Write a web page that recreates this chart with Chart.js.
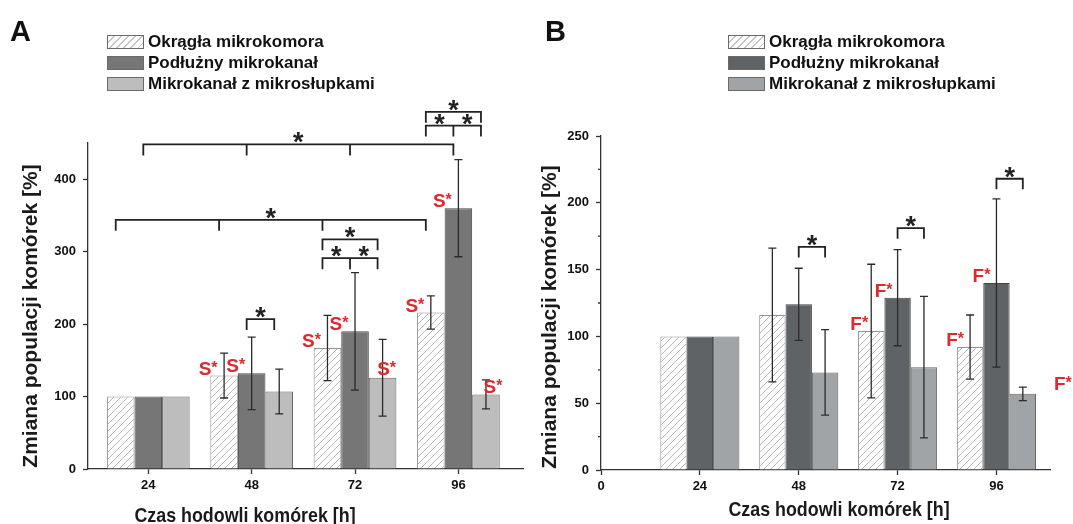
<!DOCTYPE html>
<html>
<head>
<meta charset="utf-8">
<script src="https://cdn.jsdelivr.net/npm/chart.js@4.4.0/dist/chart.umd.min.js"></script>
<style>
  body { margin: 0; background: #fff; width: 1073px; height: 524px; overflow: hidden; position: relative;
         font-family: "Liberation Sans", Arial, sans-serif; color: #111; }
  .panel { position: absolute; top: 0; height: 524px; }
  #wrapA { left: 0; width: 540px; }
  #wrapB { left: 540px; width: 533px; }
  .letter { position: absolute; top: 17px; font-weight: bold; font-size: 29px; line-height: 29px; }
  .legend { position: absolute; top: 31px; font-weight: bold; font-size: 17px; }
  .legend .row { display: flex; align-items: center; height: 21px; white-space: nowrap; }
  .legend .box { width: 35px; height: 12px; border: 1px solid #6a6a6a; margin-right: 4px; }
</style>
</head>
<body>
<div class="panel" id="wrapA"><canvas id="chart-a"></canvas></div>
<div class="panel" id="wrapB"><canvas id="chart-b"></canvas></div>
<div class="letter" style="left:10px">A</div>
<div class="letter" style="left:545px">B</div>
<div class="legend" id="legend-a" style="left:107px"></div>
<div class="legend" id="legend-b" style="left:728px"></div>

<script>
// Data
const hours = [24, 48, 72, 96];
const seriesNames = ['Okrągła mikrokomora', 'Podłużny mikrokanał', 'Mikrokanał z mikrosłupkami'];
const yTitle = 'Zmiana populacji komórek [%]';
const xTitle = 'Czas hodowli komórek [h]';

// panel A
const roundA = [100, 129, 167, 216];
const roundErrA = [0, 31, 45, 23];
const longA = [100, 132, 190, 360];
const longErrA = [0, 50, 81, 67];
const pillarA = [100, 107, 126, 103];
const pillarErrA = [0, 31, 53, 20];
const xTicksA = [24, 48, 72, 96];
const yTicksA = [0, 100, 200, 300, 400];

// panel B
const roundB = [100, 116, 104, 92];
const roundErrB = [0, 50, 50, 24];
const longB = [100, 124, 129, 140];
const longErrB = [0, 27, 36, 63];
const pillarB = [100, 73, 77, 57];
const pillarErrB = [0, 32, 53, 5];
const xTicksB = [0, 24, 48, 72, 96];
const yTicksB = [0, 50, 100, 150, 200, 250];
const yMinorB = [25, 75, 125, 175, 225];

// hatch fill for the round chamber bars
function hatch(ctx) {
  const c = document.createElement('canvas');
  c.width = c.height = 7;
  const g = c.getContext('2d');
  g.fillStyle = '#fff';
  g.fillRect(0, 0, 7, 7);
  g.strokeStyle = '#b0b0b0';
  g.lineWidth = 0.9;
  g.beginPath();
  g.moveTo(0, 7); g.lineTo(7, 0);
  g.moveTo(-1, 1); g.lineTo(1, -1);
  g.moveTo(6, 8); g.lineTo(8, 6);
  g.stroke();
  return ctx.createPattern(c, 'repeat');
}

const FONT = '"Liberation Sans", Arial, sans-serif';

// error bars, significance brackets, red markers, axis titles
const marks = {
  id: 'marks',
  afterDraw(chart, args, o) {
    const ctx = chart.ctx, ys = chart.scales.y;
    const bar = (g, s) => chart.getDatasetMeta(s).data[g];
    ctx.save();

    ctx.strokeStyle = '#2b2b2b';
    ctx.lineWidth = 1.3;
    chart.data.datasets.forEach((ds, s) => {
      ds.errors.forEach((e, g) => {
        if (!e) return;
        const b = bar(g, s), v = ds.data[g].y;
        const y1 = ys.getPixelForValue(v + e), y2 = ys.getPixelForValue(v - e);
        ctx.beginPath();
        ctx.moveTo(b.x, y1); ctx.lineTo(b.x, y2);
        ctx.moveTo(b.x - 4, y1); ctx.lineTo(b.x + 4, y1);
        ctx.moveTo(b.x - 4, y2); ctx.lineTo(b.x + 4, y2);
        ctx.stroke();
      });
    });

    // minor ticks
    ctx.strokeStyle = '#333';
    ctx.lineWidth = 1.3;
    ctx.beginPath();
    (o.minor || []).forEach(v => {
      const y = ys.getPixelForValue(v);
      ctx.moveTo(ys.right, y); ctx.lineTo(ys.right - 3, y);
    });
    ctx.stroke();

    ctx.strokeStyle = '#222';
    ctx.fillStyle = '#222';
    ctx.lineWidth = 1.8;
    ctx.textAlign = 'center';
    ctx.textBaseline = 'alphabetic';
    o.brackets.forEach(br => {
      const xs = br.pts.map(([g, s]) => bar(g, s).x + o.shift);
      const y = ys.getPixelForValue(br.at);
      const last = xs[xs.length - 1];
      ctx.beginPath();
      ctx.moveTo(xs[0], y + o.drop); ctx.lineTo(xs[0], y); ctx.lineTo(last, y); ctx.lineTo(last, y + o.drop);
      xs.slice(1, -1).forEach(x => { ctx.moveTo(x, y); ctx.lineTo(x, y + o.drop); });
      ctx.stroke();
      ctx.font = 'bold 27px ' + FONT;
      br.stars.forEach(i => ctx.fillText('*', (xs[i] + xs[i + 1]) / 2, y + 7));
    });

    ctx.fillStyle = '#dc2a2f';
    ctx.textAlign = 'left';
    o.labels.forEach(([g, s, dx, dy]) => {
      const b = bar(g, s);
      ctx.font = 'bold 19px ' + FONT;
      const w1 = ctx.measureText(o.letter).width;
      ctx.font = 'bold 16px ' + FONT;
      const w2 = ctx.measureText('*').width;
      const x0 = b.x + dx - (w1 + w2) / 2, y = b.y - 1 + (dy || 0);
      ctx.font = 'bold 19px ' + FONT;
      ctx.fillText(o.letter, x0, y);
      ctx.font = 'bold 16px ' + FONT;
      ctx.fillText('*', x0 + w1, y - 2);
    });

    ctx.fillStyle = '#1a1a1a';
    ctx.textAlign = 'center';
    ctx.font = 'bold 21px ' + FONT;
    ctx.save();
    ctx.translate(o.xt[0], o.xt[1]);
    ctx.scale(0.85, 1);
    ctx.fillText(xTitle, 0, 0);
    ctx.restore();
    ctx.save();
    ctx.translate(o.yt[0], o.yt[1]);
    ctx.rotate(-Math.PI / 2);
    ctx.textBaseline = 'middle';
    ctx.fillText(yTitle, 0, 0);
    ctx.restore();

    ctx.restore();
  }
};

function panel(id, d) {
  const el = document.getElementById(id);
  const pts = vals => hours.map((h, i) => ({ x: h, y: vals[i] }));
  new Chart(el, {
    type: 'bar',
    data: {
      datasets: [
        { label: seriesNames[0], data: pts(d.round), errors: d.roundErr,
          backgroundColor: hatch(el.getContext('2d')), borderColor: '#949494', borderWidth: 1 },
        { label: seriesNames[1], data: pts(d.long), errors: d.longErr,
          backgroundColor: d.dark, borderColor: '#444', borderWidth: 1 },
        { label: seriesNames[2], data: pts(d.pillar), errors: d.pillarErr,
          backgroundColor: d.light, borderColor: '#666', borderWidth: 1 }
      ]
    },
    options: {
      responsive: true,
      maintainAspectRatio: false,
      animation: false,
      layout: { padding: { top: d.top, right: d.right, bottom: 0, left: 0 } },
      datasets: { bar: { categoryPercentage: 0.8, barPercentage: 1 } },
      plugins: {
        legend: { display: false },
        tooltip: { enabled: false },
        marks: d.marks
      },
      scales: {
        x: {
          type: 'linear', min: d.xMin, max: d.xMax, offset: false,
          afterBuildTicks: s => { s.ticks = d.xTicks.map(v => ({ value: v })); },
          afterFit: s => { s.height = d.xH; },
          grid: { drawOnChartArea: false, offset: false, tickLength: 5, tickColor: '#333', tickWidth: 1.3 },
          border: { color: '#333', width: 1.3 },
          ticks: { font: { family: FONT, size: 13, weight: 'bold' }, color: '#111', padding: 4, maxRotation: 0, autoSkip: false }
        },
        y: {
          min: 0, max: d.yMax,
          afterBuildTicks: s => { s.ticks = d.yTicks.map(v => ({ value: v })); },
          afterFit: s => { s.width = d.yW; },
          grid: { drawOnChartArea: false, tickLength: 5, tickColor: '#333', tickWidth: 1.3 },
          border: { color: '#333', width: 1.3 },
          ticks: { font: { family: FONT, size: 13, weight: 'bold' }, color: '#111', padding: 7 }
        }
      }
    },
    plugins: [marks]
  });
}

panel('chart-a', {
  round: roundA, roundErr: roundErrA, long: longA, longErr: longErrA, pillar: pillarA, pillarErr: pillarErrA,
  dark: '#767676', light: '#bdbdbd',
  xMin: 10, xMax: 111, xTicks: xTicksA, yMax: 450, yTicks: yTicksA,
  top: 143, right: 17, xH: 55, yW: 88,
  marks: {
    shift: -5, drop: 11, letter: 'S',
    brackets: [
      { pts: [[0, 1], [1, 1], [2, 1], [3, 1]], at: 448, stars: [1] },
      { pts: [[0, 0], [1, 0], [2, 0], [3, 0]], at: 344, stars: [1] },
      { pts: [[2, 0], [2, 2]], at: 317, stars: [0] },
      { pts: [[2, 0], [2, 1], [2, 2]], at: 291, stars: [0, 1] },
      { pts: [[1, 1], [1, 2]], at: 207, stars: [0] },
      { pts: [[3, 0], [3, 2]], at: 493, stars: [0] },
      { pts: [[3, 0], [3, 1], [3, 2]], at: 474, stars: [0, 1] }
    ],
    labels: [[1, 0, -16], [1, 1, -16], [2, 0, -16], [2, 1, -16], [2, 2, 4, -2], [3, 0, -16], [3, 1, -16], [3, 2, 7]],
    xt: [245, 522], yt: [31, 316]
  }
});

panel('chart-b', {
  round: roundB, roundErr: roundErrB, long: longB, longErr: longErrB, pillar: pillarB, pillarErr: pillarErrB,
  dark: '#606365', light: '#a0a4a7',
  xMin: 0, xMax: 109, xTicks: xTicksB, yMax: 250, yTicks: yTicksB,
  top: 136, right: 23, xH: 54, yW: 61,
  marks: {
    shift: 0, drop: 10.5, letter: 'F', minor: yMinorB,
    brackets: [
      { pts: [[1, 1], [1, 2]], at: 167, stars: [0] },
      { pts: [[2, 1], [2, 2]], at: 181, stars: [0] },
      { pts: [[3, 1], [3, 2]], at: 218, stars: [0] }
    ],
    labels: [[2, 0, -12], [2, 1, -14], [3, 0, -15], [3, 1, -15], [3, 2, 40, -3]],
    xt: [299, 516], yt: [10, 317]
  }
});

// legends
function legend(id, fills) {
  const box = document.getElementById(id);
  seriesNames.forEach((name, i) => {
    const row = document.createElement('div');
    row.className = 'row';
    const sw = document.createElement('div');
    sw.className = 'box';
    sw.style.background = fills[i];
    const t = document.createElement('span');
    t.textContent = name;
    row.appendChild(sw);
    row.appendChild(t);
    box.appendChild(row);
  });
}
const hatchCss = 'repeating-linear-gradient(135deg, #fff 0 4px, #c4c4c4 4px 5px)';
legend('legend-a', [hatchCss, '#767676', '#bdbdbd']);
legend('legend-b', [hatchCss, '#606365', '#a0a4a7']);
</script>
</body>
</html>
